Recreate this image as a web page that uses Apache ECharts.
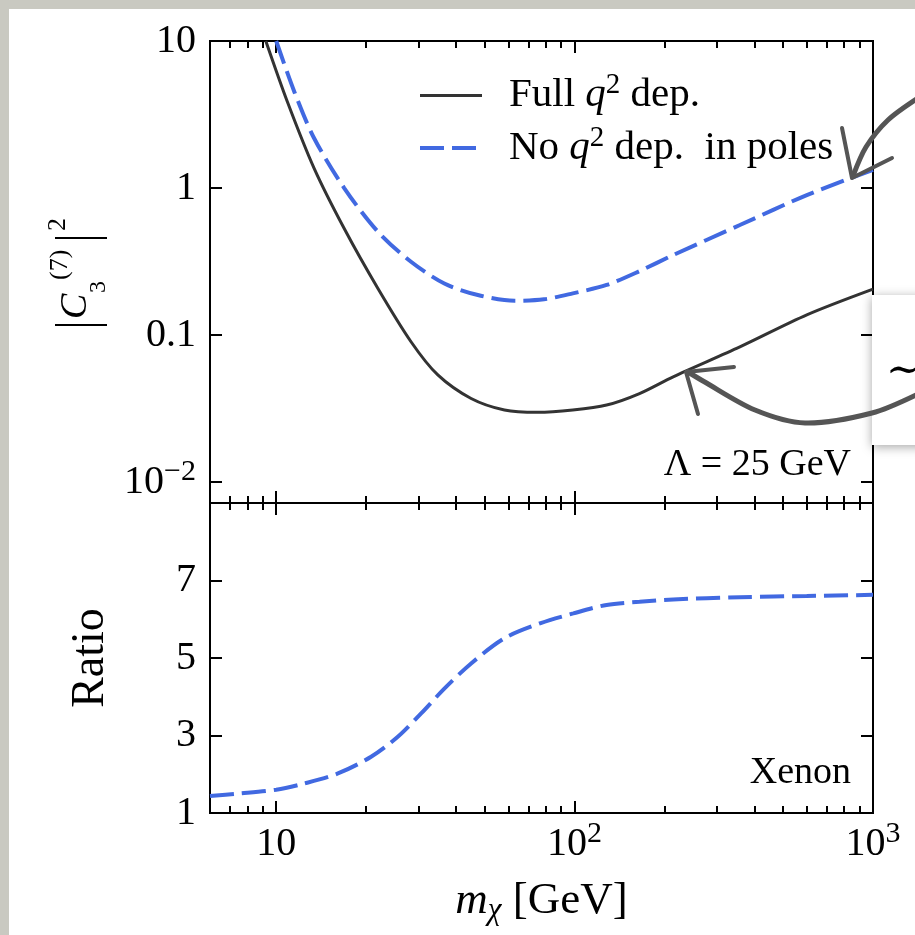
<!DOCTYPE html>
<html><head><meta charset="utf-8">
<script src="https://cdn.jsdelivr.net/npm/echarts@6/dist/echarts.min.js"></script>
<style>html,body{margin:0;padding:0;background:#fff}#c{width:915px;height:935px}</style>
</head><body><div id="c"></div>
<script>
// ---- data ----
const massFull = [9.23, 10.9, 13.4, 16.9, 21.9, 28.3, 34.8, 45, 58.2, 75, 98.6, 128, 165, 214, 358, 600, 1000];
const valueFull = [10, 3.86, 1.36, 0.53, 0.208, 0.090, 0.0535, 0.037, 0.0309, 0.0298, 0.0309, 0.0334, 0.040, 0.052, 0.083, 0.137, 0.205];
const massNoPoles = [10, 11.5, 13.4, 16.9, 21.9, 28.3, 36.6, 47.4, 63, 79, 98.6, 128, 165, 214, 358, 600, 1000];
const valueNoPoles = [10, 4.52, 2.18, 1.0, 0.505, 0.315, 0.224, 0.187, 0.171, 0.175, 0.192, 0.219, 0.272, 0.35, 0.56, 0.895, 1.33];
const massRatio = [6, 7.41, 10, 12.4, 16.1, 20.8, 25.5, 30.6, 36.6, 45, 58.2, 77, 99, 128, 165, 214, 358, 600, 1000];
const valueRatio = [1.44, 1.50, 1.60, 1.76, 2.02, 2.45, 2.96, 3.57, 4.21, 4.86, 5.51, 5.9, 6.15, 6.37, 6.45, 6.51, 6.57, 6.60, 6.63];
const xMajorTicks = [10, 100, 1000];
const xMinorTicks = [7, 8, 9, 20, 30, 40, 50, 60, 70, 80, 90, 200, 300, 400, 500, 600, 700, 800, 900];
const yTopTicks = [0.01, 0.1, 1, 10];
const yBottomTicks = [1, 3, 5, 7];
const seriesNames = ['Full q² dep.', 'No q² dep. in poles'];
const annotationTop = 'Λ = 25 GeV';
const annotationBottom = 'Xenon';

const FONT = 'Liberation Serif';
const chart = echarts.init(document.getElementById('c'), null, { renderer: 'canvas' });
const pairs = (xs, ys) => xs.map((x, i) => [x, ys[i]]);

const supRich = {
  b: { fontFamily: FONT, fontSize: 40, color: '#000' },
  p: { fontFamily: FONT, fontSize: 30, color: '#000', padding: [0, 0, 20, 0] }
};

function xLabelFmt(v) {
  const e = Math.round(Math.log10(v));
  if (e === 1) return '{b|10}';
  return '{b|10}{p|' + e + '}';
}
function yTopLabelFmt(v) {
  const e = Math.round(Math.log10(v));
  if (e === 1) return '{b|10}';
  if (e === 0) return '{b|1}';
  if (e === -1) return '{b|0.1}';
  return '{b|10}{p|−' + (-e) + '}';
}

function xAxisDef(grid, position, ticks, length, withLabels, extra) {
  const ax = {
    type: 'log', logBase: 10, gridIndex: grid, position: position, min: 6, max: 1000,
    axisLine: { show: false }, splitLine: { show: false },
    minorTick: { show: false }, minorSplitLine: { show: false },
    axisTick: { show: true, inside: true, length: length, customValues: ticks, lineStyle: { color: '#000', width: 2 } },
    axisLabel: withLabels ? {
      show: true, customValues: ticks, formatter: xLabelFmt, margin: 8, lineHeight: 46,
      rich: supRich, fontFamily: FONT, fontSize: 40, color: '#000'
    } : { show: false }
  };
  return Object.assign(ax, extra || {});
}

function rotText(text, x, y, size, italic) {
  return {
    type: 'text', silent: true, x: x, y: y, rotation: Math.PI / 2,
    style: { text: text, x: 0, y: 0, fontFamily: FONT, fontSize: size, fontStyle: italic ? 'italic' : 'normal', fill: '#000', align: 'left', verticalAlign: 'top' }
  };
}

const option = {
  animation: false,
  backgroundColor: '#fff',
  textStyle: { fontFamily: FONT },
  grid: [
    { left: 210, top: 41, right: 42, height: 462, show: true, borderColor: '#000', borderWidth: 2, backgroundColor: 'transparent', outerBoundsMode: 'none', containLabel: false },
    { left: 210, top: 503, right: 42, height: 310, show: true, borderColor: '#000', borderWidth: 2, backgroundColor: 'transparent', outerBoundsMode: 'none', containLabel: false }
  ],
  xAxis: [
    xAxisDef(0, 'bottom', xMajorTicks, 12, false),
    xAxisDef(0, 'bottom', xMinorTicks, 7, false),
    xAxisDef(0, 'top', xMajorTicks, 12, false),
    xAxisDef(0, 'top', xMinorTicks, 7, false),
    xAxisDef(1, 'bottom', xMajorTicks, 12, true, {
      name: '{i|m}{s|χ}{n| [GeV]}', nameLocation: 'middle', nameGap: 64,
      nameTextStyle: {
        rich: {
          i: { fontFamily: FONT, fontSize: 45, fontStyle: 'italic', color: '#000' },
          s: { fontFamily: FONT, fontSize: 31, fontStyle: 'italic', color: '#000', padding: [18, 0, 0, 0] },
          n: { fontFamily: FONT, fontSize: 45, color: '#000' }
        }
      }
    }),
    xAxisDef(1, 'bottom', xMinorTicks, 7, false),
    xAxisDef(1, 'top', xMajorTicks, 12, false),
    xAxisDef(1, 'top', xMinorTicks, 7, false)
  ],
  yAxis: [
    {
      type: 'log', logBase: 10, gridIndex: 0, position: 'left', min: 0.0072, max: 10,
      axisLine: { show: false }, splitLine: { show: false },
      axisTick: { show: true, inside: true, length: 12, customValues: yTopTicks, lineStyle: { color: '#000', width: 2 } },
      axisLabel: { show: true, customValues: yTopTicks, formatter: yTopLabelFmt, margin: 14, lineHeight: 46, rich: supRich, fontFamily: FONT, fontSize: 40, color: '#000' }
    },
    {
      type: 'log', logBase: 10, gridIndex: 0, position: 'right', min: 0.0072, max: 10,
      axisLine: { show: false }, splitLine: { show: false },
      axisTick: { show: true, inside: true, length: 12, customValues: yTopTicks, lineStyle: { color: '#000', width: 2 } },
      axisLabel: { show: false }
    },
    {
      type: 'value', gridIndex: 1, position: 'left', min: 1, max: 9,
      axisLine: { show: false }, splitLine: { show: false },
      axisTick: { show: true, inside: true, length: 12, customValues: yBottomTicks, lineStyle: { color: '#000', width: 2 } },
      axisLabel: { show: true, customValues: yBottomTicks, margin: 14, fontFamily: FONT, fontSize: 40, color: '#000' },
      name: 'Ratio', nameLocation: 'middle', nameRotate: 90, nameGap: 96,
      nameTextStyle: { fontFamily: FONT, fontSize: 46, color: '#000' }
    },
    {
      type: 'value', gridIndex: 1, position: 'right', min: 1, max: 9,
      axisLine: { show: false }, splitLine: { show: false },
      axisTick: { show: true, inside: true, length: 12, customValues: yBottomTicks, lineStyle: { color: '#000', width: 2 } },
      axisLabel: { show: false }
    }
  ],
  legend: {
    data: [
      { name: seriesNames[0], lineStyle: { width: 3, color: '#333333' } },
      { name: seriesNames[1], lineStyle: { width: 4, color: '#4169e1', type: [24, 8] } }
    ],
    orient: 'vertical', left: 418, top: 71, padding: 0,
    itemWidth: 62, itemHeight: 2, itemGap: 5,
    itemStyle: { opacity: 0, borderWidth: 0 },
    formatter: function (name) {
      return name === seriesNames[0]
        ? '{g| }Full {i|q}{p|2} dep.'
        : '{g| }No {i|q}{p|2} dep.  in poles';
    },
    textStyle: {
      fontFamily: FONT, fontSize: 41, color: '#000', lineHeight: 46,
      rich: {
        g: { width: 22, fontFamily: FONT, fontSize: 41 },
        i: { fontFamily: FONT, fontSize: 41, fontStyle: 'italic', color: '#000' },
        p: { fontFamily: FONT, fontSize: 29, color: '#000', padding: [0, 0, 20, 0] }
      }
    }
  },
  series: [
    {
      type: 'line', name: seriesNames[0], xAxisIndex: 0, yAxisIndex: 0,
      data: pairs(massFull, valueFull), symbol: 'none', showSymbol: false,
      smooth: 0.3, clip: true,
      lineStyle: { color: '#333333', width: 3 }, itemStyle: { color: '#333333' }
    },
    {
      type: 'line', name: seriesNames[1], xAxisIndex: 0, yAxisIndex: 0,
      data: pairs(massNoPoles, valueNoPoles), symbol: 'none', showSymbol: false,
      smooth: 0.3, clip: true,
      lineStyle: { color: '#4169e1', width: 4, type: [24, 8] }, itemStyle: { color: '#4169e1' }
    },
    {
      type: 'line', name: 'Ratio', xAxisIndex: 4, yAxisIndex: 2,
      data: pairs(massRatio, valueRatio), symbol: 'none', showSymbol: false,
      smooth: 0.3, clip: true,
      lineStyle: { color: '#4169e1', width: 4, type: [24, 8] }, itemStyle: { color: '#4169e1' }
    }
  ],
  graphic: [
    { type: 'rect', silent: true, z: 50, shape: { x: 0, y: 0, width: 915, height: 9 }, style: { fill: '#c9c9c1' } },
    { type: 'rect', silent: true, z: 50, shape: { x: 0, y: 0, width: 9, height: 935 }, style: { fill: '#c9c9c1' } },
    // y title of top panel: |C_3^(7)|^2
    { type: 'line', silent: true, shape: { x1: 55, y1: 325, x2: 107, y2: 325 }, style: { stroke: '#000', lineWidth: 2 } },
    { type: 'line', silent: true, shape: { x1: 55, y1: 238, x2: 107, y2: 238 }, style: { stroke: '#000', lineWidth: 2 } },
    rotText('C', 57, 319, 38, true),
    rotText('3', 87, 293, 24, false),
    rotText('(7)', 47, 280, 26, false),
    rotText('2', 45, 231, 26, false),
    { type: 'text', silent: true, style: { text: annotationTop, x: 851, y: 465, fontFamily: FONT, fontSize: 38, fill: '#000', align: 'right', verticalAlign: 'middle' } },
    { type: 'text', silent: true, style: { text: annotationBottom, x: 851, y: 773, fontFamily: FONT, fontSize: 38, fill: '#000', align: 'right', verticalAlign: 'middle' } },
    // overlay box on the right
    { type: 'rect', silent: true, z: 60, shape: { x: 872, y: 295, width: 60, height: 150 }, style: { fill: '#fff', shadowBlur: 10, shadowColor: 'rgba(0,0,0,0.35)', shadowOffsetY: 2 } },
    { type: 'text', silent: true, z: 61, style: { text: '∼', x: 886, y: 372, fontFamily: 'DejaVu Serif', fontSize: 42, fill: '#000', align: 'left', verticalAlign: 'middle' } },
    // hand-drawn arrows
    { type: 'polyline', silent: true, z: 70, shape: { points: [[918, 98], [888, 120], [866, 147], [853, 176]], smooth: 0.3 }, style: { stroke: '#555', lineWidth: 5, fill: null, lineCap: 'round' } },
    { type: 'polyline', silent: true, z: 70, shape: { points: [[842, 128], [852, 178], [892, 158]] }, style: { stroke: '#555', lineWidth: 4, fill: null, lineCap: 'round', lineJoin: 'round' } },
    { type: 'polyline', silent: true, z: 70, shape: { points: [[918, 394], [872, 413], [805, 423], [755, 410], [703, 381], [688, 372]], smooth: 0.3 }, style: { stroke: '#555', lineWidth: 5, fill: null, lineCap: 'round' } },
    { type: 'polyline', silent: true, z: 70, shape: { points: [[698, 414], [686, 372], [734, 367]] }, style: { stroke: '#555', lineWidth: 4, fill: null, lineCap: 'round', lineJoin: 'round' } }
  ]
};
chart.setOption(option);
</script>
</body></html>
